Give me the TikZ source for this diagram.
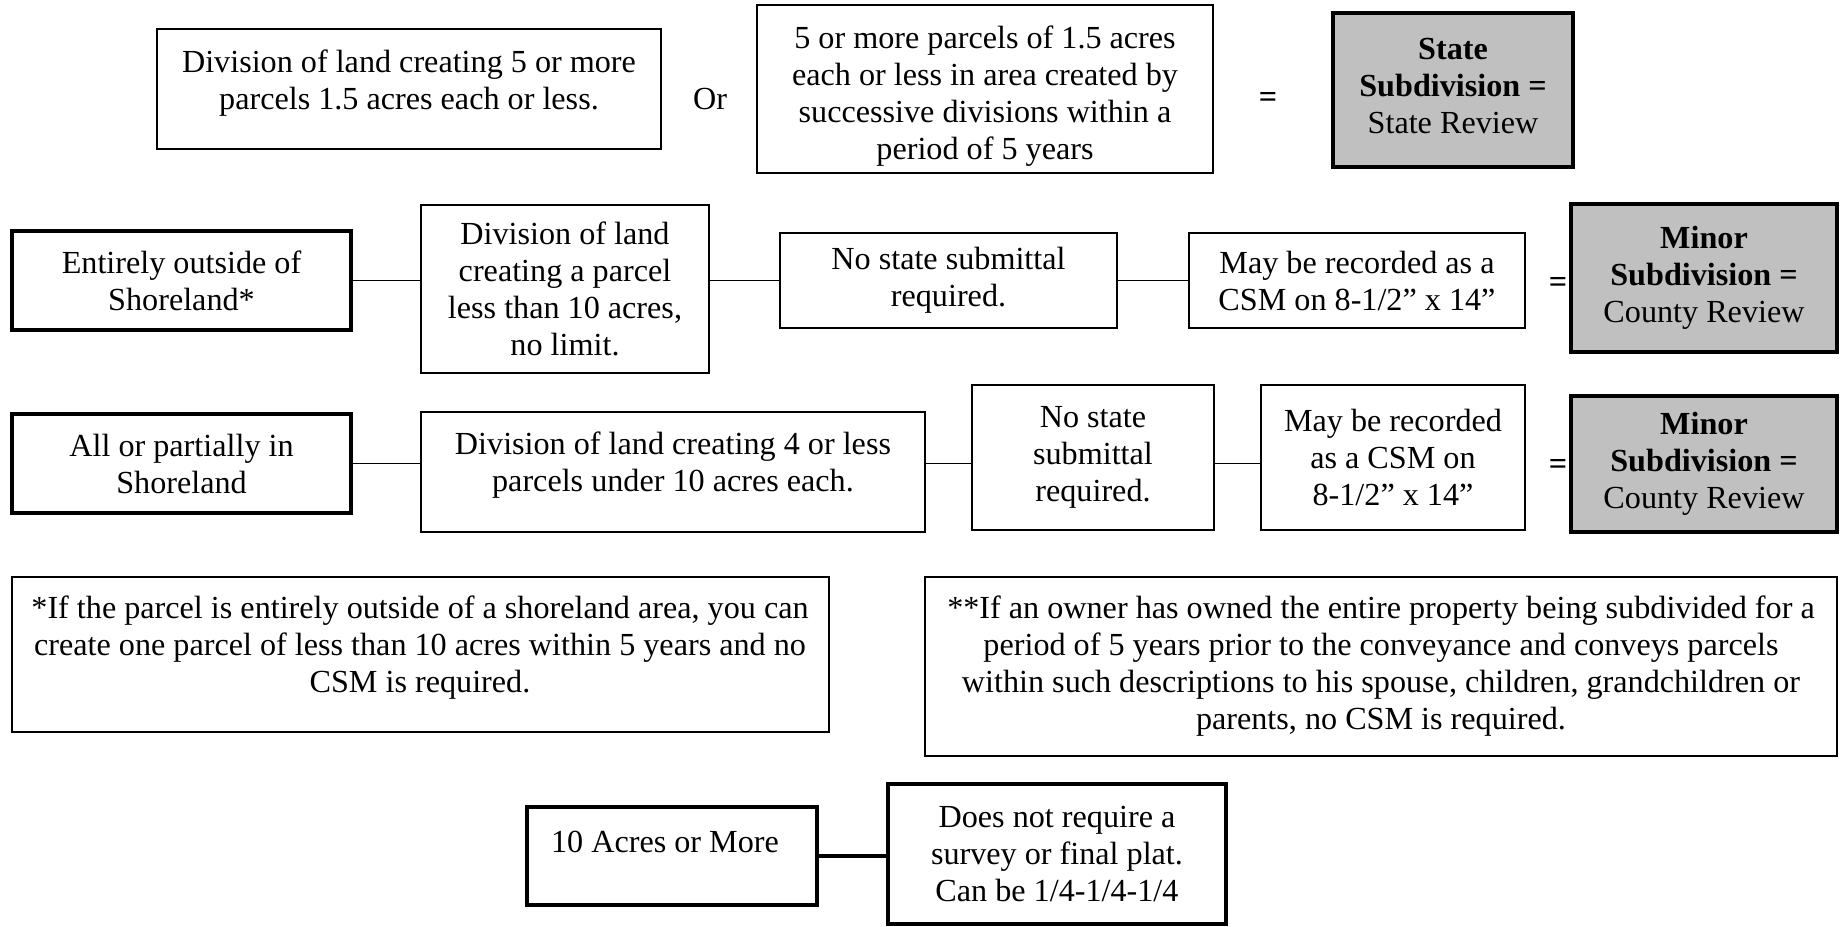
\documentclass[tikz,border=0pt]{standalone}
\usepackage{fontspec}
\setmainfont{Liberation Serif}
\definecolor{boxgray}{HTML}{C0C0C0}
\begin{document}
\begin{tikzpicture}[x=0.373pt,y=-0.373pt,
  every node/.style={font=\fontsize{12}{13.8}\selectfont},
  sz/.style 2 args={minimum width=#1*0.373pt, minimum height=#2*0.373pt},
  box/.style={draw, line width=0.5pt, inner sep=0pt, align=center},
  heavybox/.style={draw, line width=1.5pt, inner sep=0pt, align=center},
  graybox/.style={draw, line width=1.5pt, fill=boxgray, inner sep=0pt, align=center},
  txt/.style={inner sep=0pt, align=center},
  link/.style={line width=0.5pt},
  heavylink/.style={line width=1.5pt}]
\useasboundingbox (0,0) rectangle (1846,927);

% Row 1
\node[box, sz={504}{120}] (A) at (409,89) {};
\node[txt] (Atext) at (409,83) {Division of land creating 5 or more\\parcels 1.5 acres each or less.};
\node[txt] (or) at (710,99) {Or};
\node[box, sz={456}{168}] (B) at (985,89) {};
\node[txt] (Btext) at (985,96) {5 or more parcels of 1.5 acres\\each or less in area created by\\successive divisions within a\\period of 5 years};
\node[txt] (eq0) at (1268,100) {\textbf{=}};
\node[graybox, sz={240}{154}] (G0) at (1453,90) {};
\node[txt] (G0text) at (1453,86) {\textbf{State}\\\textbf{Subdivision =}\\State Review};

% Row 2
\node[heavybox, sz={339}{99}] (E1) at (181.5,280.5) {Entirely outside of\\Shoreland*};
\node[box, sz={288}{168}] (D1) at (565,289) {Division of land\\creating a parcel\\less than 10 acres,\\no limit.};
\node[box, sz={337}{95}] (N1) at (948.5,280.5) {No state submittal\\required.};
\node[box, sz={336}{95}] (M1) at (1357,280.5) {May be recorded as a\\CSM on 8-1/2” x 14”};
\node[txt] (eq1) at (1558,285) {\textbf{=}};
\node[graybox, sz={266}{148}] (G1) at (1704,278) {\textbf{Minor}\\\textbf{Subdivision =}\\County Review};

\draw[link] (E1.east) -- (E1.east -| D1.west);
\draw[link] (D1.east |- N1.west) -- (N1.west);
\draw[link] (N1.east) -- (M1.west);

% Row 3
\node[heavybox, sz={339}{99}] (E2) at (181.5,463.5) {All or partially in\\Shoreland};
\node[box, sz={504}{120}] (D2) at (673,472) {};
\node[txt] (D2text) at (673,465) {Division of land creating 4 or less\\parcels under 10 acres each.};
\node[box, sz={242}{145}] (N2) at (1093,457.5) {No state\\submittal\\required.};
\node[box, sz={264}{145}] (M2) at (1393,457.5) {May be recorded\\as a CSM on\\8-1/2” x 14”};
\node[txt] (eq2) at (1558,467) {\textbf{=}};
\node[graybox, sz={266}{136}] (G2) at (1704,464) {\textbf{Minor}\\\textbf{Subdivision =}\\County Review};

\draw[link] (E2.east) -- (E2.east -| D2.west);
\draw[link] (D2.east |- E2.east) -- (N2.west |- E2.east);
\draw[link] (N2.east |- E2.east) -- (M2.west |- E2.east);

% Footnotes
\node[box, sz={817}{155}] (F1) at (420.5,654.5) {};
\node[txt] (F1text) at (420,648) {*If the parcel is entirely outside of a shoreland area, you can\\create one parcel of less than 10 acres within 5 years and no\\CSM is required.};
\node[box, sz={912}{179}] (F2) at (1381,666.5) {**If an owner has owned the entire property being subdivided for a\\period of 5 years prior to the conveyance and conveys parcels\\within such descriptions to his spouse, children, grandchildren or\\parents, no CSM is required.};

% Bottom
\node[heavybox, sz={290}{98}] (T) at (672,856) {};
\node[txt] (Ttext) at (665,842) {10 Acres or More};
\node[heavybox, sz={338}{140}] (S) at (1057,854) {Does not require a\\survey or final plat.\\Can be 1/4-1/4-1/4};
\draw[heavylink] (T.east) -- (T.east -| S.west);
\end{tikzpicture}
\end{document}
